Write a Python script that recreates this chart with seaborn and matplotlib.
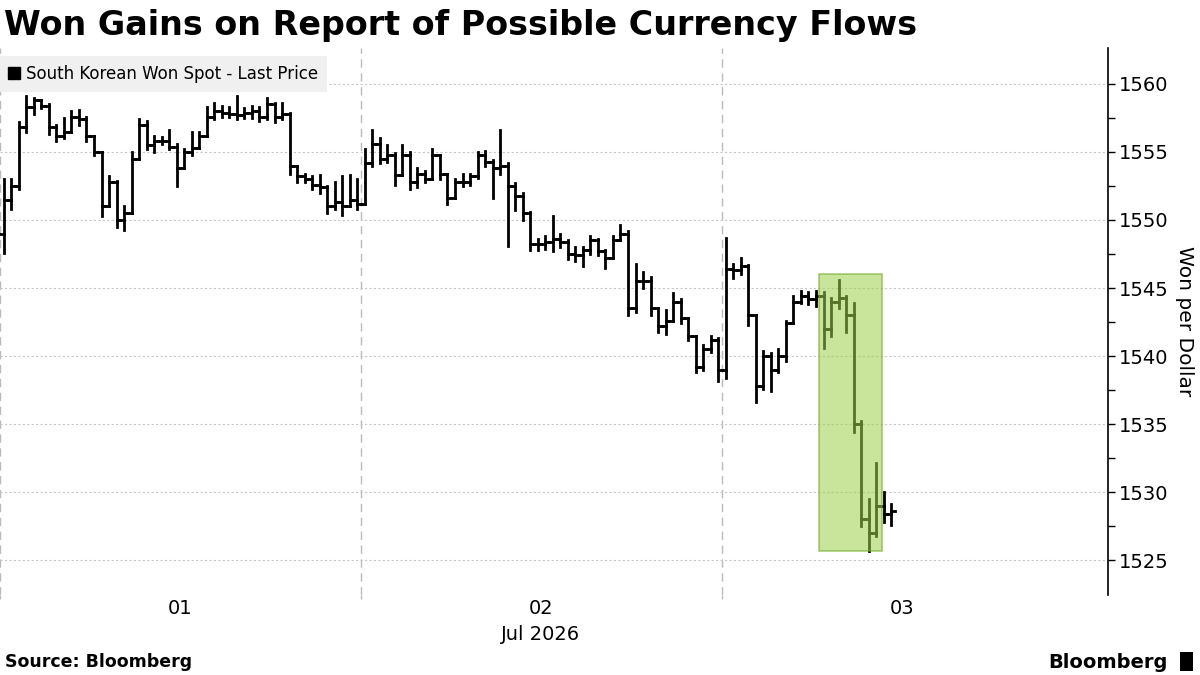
import matplotlib
matplotlib.use("Agg")
import matplotlib.pyplot as plt
import matplotlib.lines as mlines
from matplotlib.patches import Rectangle
import numpy as np
import pandas as pd
import seaborn as sns

# South Korean won spot, 30-minute OHLC bars from 1 Jul 2026 00:00
bar_hours = 0.5
first_open = 1549.0
highs = [1553.0, 1553.0, 1557.2, 1559.1, 1559.0, 1558.8, 1558.5, 1557.0, 1557.5, 1558.0,
         1558.1, 1557.6, 1556.2, 1555.0, 1553.2, 1552.9, 1551.0, 1555.0, 1557.4, 1557.3,
         1556.2, 1556.1, 1556.6, 1555.6, 1555.2, 1556.5, 1556.5, 1558.3, 1558.6, 1558.4,
         1558.3, 1559.1, 1558.2, 1558.4, 1558.3, 1559.0, 1558.6, 1558.6, 1557.9, 1554.0,
         1553.4, 1553.2, 1553.3, 1552.5, 1552.8, 1553.2, 1553.3, 1553.0, 1555.2, 1556.6,
         1556.0, 1555.5, 1554.9, 1555.5, 1555.0, 1553.8, 1553.6, 1555.2, 1554.8, 1553.4,
         1553.0, 1553.4, 1553.4, 1555.0, 1555.1, 1554.4, 1556.6, 1554.2, 1552.7, 1552.0,
         1550.6, 1548.6, 1548.8, 1550.3, 1549.0, 1548.5, 1548.0, 1548.0, 1548.8, 1548.6,
         1547.8, 1548.8, 1549.6, 1549.2, 1546.8, 1546.2, 1545.8, 1543.5, 1543.4, 1544.6,
         1544.2, 1542.8, 1541.5, 1540.8, 1541.5, 1541.3, 1548.7, 1546.8, 1547.2, 1546.7,
         1543.0, 1540.4, 1540.2, 1540.5, 1542.6, 1544.4, 1544.8, 1544.7, 1544.8, 1544.7,
         1544.3, 1545.6, 1544.4, 1543.9, 1535.2, 1529.5, 1532.1, 1530.0, 1529.1]
lows = [1547.6, 1550.8, 1552.3, 1556.5, 1557.8, 1558.2, 1556.3, 1555.8, 1556.0, 1556.5,
        1557.0, 1555.8, 1554.8, 1550.3, 1551.0, 1549.5, 1549.3, 1550.5, 1554.5, 1555.2,
        1555.0, 1555.6, 1555.2, 1552.5, 1553.8, 1554.8, 1555.3, 1556.2, 1557.4, 1557.6,
        1557.6, 1557.4, 1557.5, 1557.5, 1557.3, 1557.4, 1557.2, 1557.4, 1553.4, 1552.8,
        1552.8, 1552.3, 1552.0, 1550.5, 1550.8, 1550.4, 1551.0, 1550.8, 1551.2, 1554.0,
        1554.2, 1554.3, 1552.6, 1553.3, 1552.3, 1552.4, 1552.8, 1553.0, 1553.0, 1551.2,
        1551.6, 1552.5, 1552.6, 1553.1, 1554.0, 1551.6, 1553.4, 1548.1, 1550.7, 1550.0,
        1547.8, 1547.8, 1547.9, 1547.7, 1548.0, 1547.1, 1547.0, 1546.6, 1547.5, 1547.4,
        1546.5, 1547.2, 1548.5, 1543.0, 1543.2, 1545.0, 1543.0, 1541.8, 1541.6, 1542.6,
        1542.4, 1541.2, 1538.8, 1539.0, 1540.3, 1538.2, 1538.4, 1545.7, 1546.0, 1542.3,
        1536.6, 1537.6, 1537.4, 1538.8, 1539.6, 1542.4, 1543.9, 1543.8, 1543.7, 1540.6,
        1541.5, 1543.5, 1541.8, 1534.4, 1527.5, 1525.7, 1526.8, 1527.8, 1527.6]
closes = [1551.5, 1552.5, 1556.8, 1558.3, 1558.8, 1558.4, 1556.8, 1556.2, 1556.5, 1557.6,
          1557.4, 1556.2, 1555.0, 1551.0, 1552.8, 1550.0, 1550.5, 1554.5, 1557.0, 1555.5,
          1555.8, 1555.8, 1555.4, 1553.8, 1555.0, 1555.3, 1556.2, 1557.6, 1558.0, 1557.9,
          1557.8, 1557.7, 1557.9, 1558.0, 1557.6, 1558.5, 1557.6, 1557.8, 1554.0, 1553.2,
          1553.0, 1552.6, 1552.4, 1551.0, 1551.3, 1551.0, 1551.5, 1551.2, 1554.2, 1555.6,
          1554.5, 1554.8, 1553.3, 1554.8, 1552.8, 1553.4, 1553.0, 1554.8, 1553.4, 1551.6,
          1552.8, 1552.8, 1553.2, 1554.8, 1554.3, 1553.8, 1554.0, 1552.5, 1551.8, 1550.5,
          1548.2, 1548.2, 1548.4, 1548.6, 1548.4, 1547.5, 1547.4, 1547.8, 1548.5, 1547.7,
          1547.2, 1548.5, 1549.0, 1543.5, 1545.5, 1545.5, 1543.5, 1542.2, 1542.6, 1544.0,
          1542.8, 1541.5, 1539.2, 1540.5, 1541.2, 1539.0, 1546.4, 1546.3, 1546.6, 1543.0,
          1537.8, 1540.0, 1539.0, 1540.0, 1542.4, 1544.0, 1544.4, 1544.2, 1544.4, 1542.0,
          1544.0, 1544.3, 1543.0, 1535.0, 1528.0, 1527.0, 1529.0, 1528.4, 1528.6]

day_labels = ["01", "02", "03"]
highlight_hours = (54.45, 58.64)
highlight_won = (1525.7, 1546.0)

# build OHLC segments (high-low bar, open tick left, close tick right)
opens = [first_open] + closes[:-1]
t = (np.arange(len(closes)) + 0.5) * bar_hours
tick = 0.25
rows = []
for i in range(len(closes)):
    rows += [(t[i], lows[i], 3 * i), (t[i], highs[i], 3 * i),
             (t[i] - tick, opens[i], 3 * i + 1), (t[i], opens[i], 3 * i + 1),
             (t[i], closes[i], 3 * i + 2), (t[i] + tick, closes[i], 3 * i + 2)]
df = pd.DataFrame(rows, columns=["hours", "won", "seg"])

sns.set_theme(style="white")
plt.rcParams["font.family"] = ["DejaVu Sans"]
plt.rcParams["text.color"] = "black"
plt.rcParams["axes.labelcolor"] = "black"
plt.rcParams["xtick.color"] = "black"
plt.rcParams["ytick.color"] = "black"

fig = plt.figure(figsize=(12, 6.75), dpi=100)
ax = fig.add_axes([0, 0.1185, 0.9233, 0.8105])

sns.lineplot(data=df, x="hours", y="won", units="seg", estimator=None, sort=False,
             color="black", lw=2.0, ax=ax, legend=False)
for line in ax.lines:
    line.set_solid_capstyle("projecting")

ax.add_patch(Rectangle((highlight_hours[0], highlight_won[0]),
                       highlight_hours[1] - highlight_hours[0],
                       highlight_won[1] - highlight_won[0],
                       facecolor="#9bd14a", alpha=0.55, edgecolor="#6fa82a",
                       lw=1.3, zorder=3))

ax.set_xlim(0, 73.66)
ax.set_ylim(1522.43, 1562.65)

# y axis on the right
ax.yaxis.tick_right()
ax.set_yticks(np.arange(1525, 1561, 5))
ax.set_yticks(np.arange(1527.5, 1561, 5), minor=True)
ax.tick_params(axis="y", which="both", direction="out", length=5, width=1,
               color="black", labelcolor="black", labelsize=14, pad=3, right=True)
ax.yaxis.set_label_position("right")
ax.set_ylabel("Won per Dollar", rotation=270, fontsize=14.5, labelpad=18, color="black")

# x axis: day boundaries as major ticks, day labels at midday
ax.set_xticks([0, 24, 48])
ax.set_xticklabels([])
ax.set_xticks([12, 36, 60], minor=True)
ax.set_xticklabels(day_labels, minor=True)
ax.tick_params(axis="x", which="major", length=3, width=1, color="#bbbbbb", bottom=True)
ax.tick_params(axis="x", which="minor", length=0, labelsize=14, pad=3, labelcolor="black")
ax.set_xlabel("")

ax.grid(axis="y", which="major", ls=(0, (2, 2)), color="#c8c8c8", lw=0.8)
ax.grid(axis="x", which="major", ls=(0, (6, 4)), color="#bbbbbb", lw=1)

for side in ["left", "top", "bottom"]:
    ax.spines[side].set_visible(False)
ax.spines["right"].set_color("black")
ax.spines["right"].set_linewidth(1.2)

handle = mlines.Line2D([], [], marker="s", color="black", linestyle="none", markersize=8)
ax.legend([handle], ["South Korean Won Spot - Last Price"], loc="upper left",
          bbox_to_anchor=(0, 0.985), frameon=True, fancybox=False, facecolor="#f0f0f0",
          edgecolor="none", framealpha=1, fontsize=12, handlelength=0.6,
          handletextpad=0.4, borderaxespad=0, borderpad=0.55, labelcolor="black")

fig.text(541 / 1200, 1 - 634 / 675, "Jul 2026", fontsize=14, ha="center", va="center")
fig.text(4 / 1200, 1 - 25 / 675, "Won Gains on Report of Possible Currency Flows",
         fontsize=24, weight="bold", va="center")
fig.text(5 / 1200, 1 - 662 / 675, "Source: Bloomberg", fontsize=12.5, weight="bold",
         va="center")
fig.text(1168 / 1200, 1 - 662 / 675, "Bloomberg", fontsize=14, weight="bold",
         ha="right", va="center")
fig.add_artist(Rectangle((1180 / 1200, 1 - 671 / 675), 13 / 1200, 19 / 675,
                         transform=fig.transFigure, facecolor="black", edgecolor="none"))

fig.savefig("out.png", dpi=100)
